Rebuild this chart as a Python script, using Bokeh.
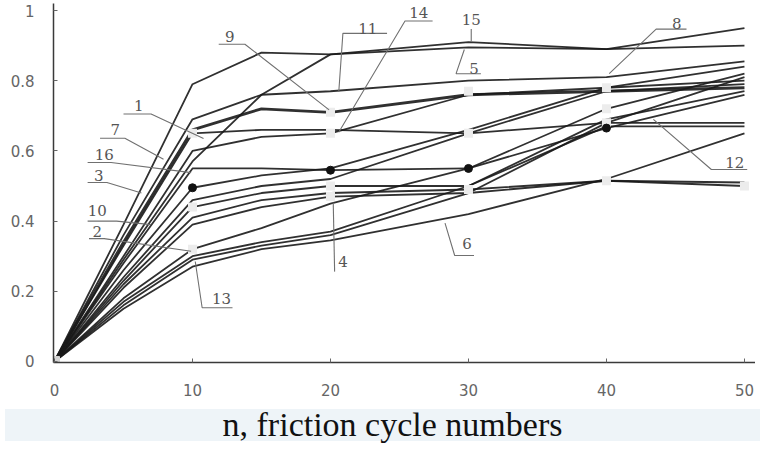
from bokeh.plotting import figure
from bokeh.models import FixedTicker, Div, Range1d
from bokeh.layouts import column
from bokeh.embed import file_html
from bokeh.resources import INLINE
from bokeh.core.properties import value

# ---------------- data ----------------
n_cycles = [0, 5, 10, 15, 20, 30, 40, 50]

curve_15 = [0, 0.39, 0.79, 0.88, 0.875, 0.91, 0.89, 0.95]
curve_11 = [0, 0.29, 0.57, 0.76, 0.875, 0.895, 0.89, 0.90]
curve_05 = [0, 0.36, 0.69, 0.76, 0.77, 0.80, 0.81, 0.855]
curve_09 = [0, 0.34, 0.66, 0.72, 0.71, 0.76, 0.77, 0.78]
curve_01 = [0, 0.33, 0.65, 0.66, 0.66, 0.65, 0.68, 0.68]
curve_07 = [0, 0.30, 0.60, 0.64, 0.65, 0.76, 0.78, 0.84]
curve_16 = [0, 0.28, 0.55, 0.55, 0.545, 0.55, 0.72, 0.82]
curve_03 = [0, 0.26, 0.495, 0.53, 0.55, 0.66, 0.78, 0.80]
curve_10 = [0, 0.24, 0.46, 0.50, 0.52, 0.65, 0.77, 0.79]
curve_02 = [0, 0.23, 0.44, 0.48, 0.50, 0.50, 0.69, 0.77]
curve_08 = [0, 0.22, 0.41, 0.46, 0.48, 0.49, 0.515, 0.51]
curve_14 = [0, 0.21, 0.39, 0.44, 0.47, 0.48, 0.515, 0.50]
curve_12 = [0, 0.18, 0.32, 0.38, 0.45, 0.55, 0.665, 0.76]
curve_04 = [0, 0.16, 0.29, 0.33, 0.36, 0.48, 0.68, 0.81]
curve_06 = [0, 0.15, 0.27, 0.32, 0.345, 0.42, 0.52, 0.65]
curve_13 = [0, 0.17, 0.30, 0.34, 0.37, 0.50, 0.67, 0.67]

curves = [curve_15, curve_11, curve_05, curve_09, curve_01, curve_07, curve_16,
          curve_03, curve_10, curve_02, curve_08, curve_14, curve_12, curve_04,
          curve_06, curve_13]
thick = [curve_09]

# points drawn as black dots
dot_x = [10, 20, 30, 40]
dot_y = [0.495, 0.545, 0.55, 0.665]

# points drawn as pale (white/grey) square markers
mark_x = [10, 10, 10, 20, 20, 20, 20, 30, 30, 30, 40, 40, 40, 40, 50]
mark_y = [0.65, 0.44, 0.32, 0.71, 0.65, 0.50, 0.47, 0.77, 0.65, 0.49, 0.78, 0.72, 0.68, 0.515, 0.50]

x_ticks = [0, 10, 20, 30, 40, 50]
y_ticks = [0, 0.2, 0.4, 0.6, 0.8, 1.0]
y_tick_labels = ["0", "0.2", "0.4", "0.6", "0.8", "1"]

# curve number labels: text, position, leader polyline
labels = [
    ("1", 6.1, 0.73, [5.0, 7.0, 10.8], [0.705, 0.705, 0.635]),
    ("7", 4.4, 0.662, [3.3, 5.1, 7.9], [0.636, 0.636, 0.576]),
    ("16", 3.6, 0.59, [2.4, 4.1, 9.9], [0.567, 0.567, 0.538]),
    ("3", 3.2, 0.53, [2.4, 3.8, 6.3], [0.51, 0.51, 0.48]),
    ("10", 3.1, 0.43, [2.4, 4.5, 7.0], [0.40, 0.40, 0.39]),
    ("2", 3.1, 0.37, [2.5, 3.6, 9.9], [0.35, 0.35, 0.314]),
    ("13", 12.1, 0.18, [10.2, 10.7, 12.9], [0.285, 0.153, 0.153]),
    ("9", 12.7, 0.927, [11.9, 13.8, 19.9], [0.904, 0.904, 0.717]),
    ("11", 22.7, 0.95, [24.1, 20.9, 20.6], [0.935, 0.935, 0.768]),
    ("14", 26.4, 0.993, [27.4, 25.4, 20.6], [0.97, 0.97, 0.653]),
    ("15", 30.2, 0.975, [30.2, 30.2], [0.947, 0.912]),
    ("5", 30.4, 0.835, [30.9, 29.1, 29.7], [0.82, 0.82, 0.889]),
    ("8", 45.1, 0.964, [45.8, 43.6, 40.2], [0.947, 0.947, 0.82]),
    ("12", 49.3, 0.567, [50.2, 47.6, 43.4], [0.547, 0.547, 0.69]),
    ("4", 20.9, 0.285, [20.2, 20.3], [0.452, 0.256]),
    ("6", 29.9, 0.337, [28.3, 29.0, 30.4], [0.394, 0.302, 0.302]),
]

# ---------------- figure ----------------
p = figure(frame_width=702, frame_height=359,
           x_range=Range1d(-0.0725, 50.80), y_range=Range1d(-0.0029, 1.02),
           output_backend="svg", toolbar_location=None,
           min_border_left=53, min_border_right=0, min_border_top=3, min_border_bottom=42)
p.outline_line_color = None
p.grid.visible = False
p.background_fill_color = "white"
p.border_fill_color = "white"

for ax in (p.xaxis[0], p.yaxis[0]):
    ax.axis_line_color = "#3a3a3a"
    ax.axis_line_width = 1.5
    ax.major_tick_line_color = "#666666"
    ax.major_tick_in = 4
    ax.major_tick_out = 0
    ax.minor_tick_line_color = None
    ax.major_label_text_font = "DejaVu Sans"
    ax.major_label_text_font_size = "15px"
    ax.major_label_text_color = "#666666"

p.xaxis.ticker = FixedTicker(ticks=x_ticks)
p.yaxis.ticker = FixedTicker(ticks=y_ticks)
p.yaxis.major_label_overrides = {t: s for t, s in zip(y_ticks, y_tick_labels)}
p.xaxis.major_label_standoff = 21
p.yaxis.major_label_standoff = 19

for c in curves:
    w = 2.8 if any(c is t for t in thick) else 1.8
    p.line(n_cycles, c, line_color="#1a1a1a", line_width=w, line_alpha=0.9)

p.scatter(mark_x, mark_y, marker="square", size=9, fill_color="#ececec",
          line_color=None)
p.scatter(dot_x, dot_y, marker="circle", size=8, color="#111111")
p.scatter([0], [0], marker="square", size=10, color="#d4d4d4")

for txt, tx, ty, lx, ly in labels:
    p.line(lx, ly, line_color="#707070", line_width=1.1)
    p.text([tx], [ty], text=[txt], text_font=value("DejaVu Serif"),
           text_font_size="15px", text_color="#555555",
           text_align="center", text_baseline="middle")

title = Div(text="n, friction cycle numbers", width=755, height=32,
            styles={"background-color": "#eef4f8", "font-family": "Liberation Serif",
                    "font-size": "34px", "text-align": "center", "line-height": "32px",
                    "padding-left": "20px", "box-sizing": "border-box",
                    "color": "#111111", "white-space": "nowrap"})

layout = column(p, title, spacing=0)
open("out.html", "w").write(file_html(layout, INLINE))
